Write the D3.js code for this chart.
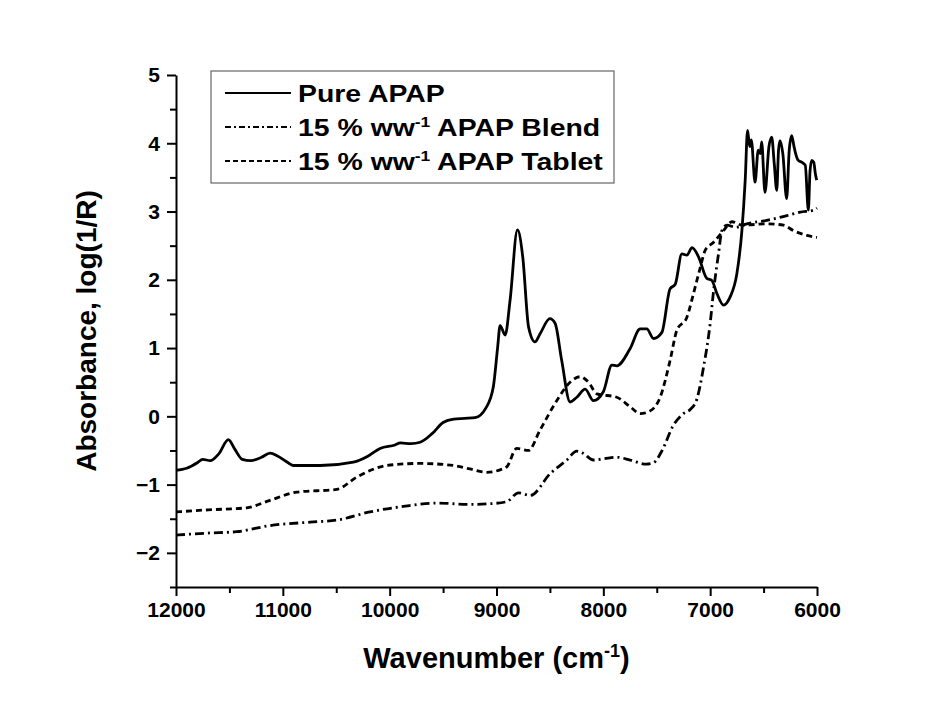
<!DOCTYPE html>
<html>
<head>
<meta charset="utf-8">
<script src="https://cdn.jsdelivr.net/npm/d3@7"></script>
<style>
  body { margin: 0; background: #ffffff; }
</style>
</head>
<body>
<div id="chart"></div>
<script>
// Wavenumber (cm-1) and absorbance
var pureWave = [12000, 11900, 11800, 11750, 11680, 11600, 11510, 11450, 11380, 11300, 11200, 11120, 11050, 10950, 10900, 10650, 10340, 10200, 10090, 9950, 9900, 9800, 9715, 9600, 9500, 9400, 9300, 9200, 9100, 9030, 8990, 8966, 8919, 8873, 8804, 8754, 8700, 8640, 8592, 8500, 8451, 8390, 8311, 8248, 8170, 8093, 8000, 7920, 7874, 7750, 7655, 7593, 7530, 7452, 7375, 7328, 7265, 7218, 7170, 7110, 7031, 6984, 6937, 6875, 6813, 6750, 6703, 6672, 6650, 6630, 6615, 6580, 6550, 6530, 6518, 6487, 6450, 6424, 6400, 6377, 6360, 6346, 6320, 6284, 6260, 6237, 6215, 6200, 6175, 6140, 6110, 6081, 6065, 6049, 6030, 6015, 6003];
var pureAbs = [-0.79, -0.76, -0.68, -0.63, -0.65, -0.55, -0.34, -0.48, -0.63, -0.65, -0.60, -0.54, -0.58, -0.68, -0.72, -0.72, -0.67, -0.58, -0.47, -0.42, -0.39, -0.40, -0.38, -0.25, -0.09, -0.04, -0.03, -0.02, 0.12, 0.43, 1.00, 1.33, 1.19, 1.70, 2.73, 2.33, 1.31, 1.09, 1.21, 1.43, 1.36, 0.82, 0.21, 0.28, 0.40, 0.23, 0.36, 0.75, 0.74, 0.99, 1.28, 1.28, 1.14, 1.23, 1.87, 1.93, 2.38, 2.36, 2.47, 2.34, 2.02, 1.99, 1.80, 1.63, 1.75, 2.09, 2.72, 3.46, 4.19, 3.95, 4.05, 3.43, 3.90, 3.85, 4.02, 3.28, 3.95, 4.09, 3.70, 3.31, 3.90, 4.04, 3.85, 3.19, 3.90, 4.11, 3.95, 3.85, 3.75, 3.72, 3.68, 3.02, 3.60, 3.75, 3.72, 3.55, 3.46];

var blendWave = [12000, 11700, 11432, 11120, 10745, 10495, 10184, 9872, 9559, 9250, 9060, 8904, 8795, 8685, 8498, 8342, 8248, 8190, 8093, 7990, 7874, 7749, 7600, 7530, 7450, 7344, 7250, 7187, 7125, 7062, 7000, 6968, 6922, 6890, 6843, 6760, 6657, 6470, 6282, 6157, 6032, 6000];
var blendAbs = [-1.74, -1.71, -1.69, -1.60, -1.55, -1.52, -1.40, -1.32, -1.27, -1.29, -1.28, -1.25, -1.12, -1.16, -0.84, -0.64, -0.51, -0.54, -0.64, -0.62, -0.60, -0.64, -0.70, -0.68, -0.50, -0.13, 0.04, 0.10, 0.25, 0.72, 1.36, 1.84, 2.38, 2.72, 2.80, 2.77, 2.82, 2.87, 2.94, 2.99, 3.02, 3.05];

var tabletWave = [12000, 11700, 11338, 11120, 10870, 10495, 10308, 10027, 9715, 9403, 9250, 9091, 8960, 8904, 8810, 8701, 8592, 8436, 8311, 8217, 8139, 8061, 7874, 7749, 7655, 7562, 7468, 7375, 7312, 7218, 7156, 7094, 7047, 6968, 6875, 6797, 6700, 6470, 6313, 6220, 6095, 6000];
var tabletAbs = [-1.40, -1.37, -1.34, -1.23, -1.11, -1.07, -0.89, -0.72, -0.69, -0.72, -0.77, -0.82, -0.78, -0.74, -0.47, -0.50, -0.20, 0.23, 0.50, 0.58, 0.50, 0.33, 0.28, 0.14, 0.04, 0.08, 0.28, 0.82, 1.26, 1.45, 1.80, 2.17, 2.43, 2.55, 2.72, 2.85, 2.80, 2.82, 2.80, 2.72, 2.65, 2.62];

var xTicks = [12000, 11000, 10000, 9000, 8000, 7000, 6000];
var yTicks = [-2, -1, 0, 1, 2, 3, 4, 5];

var seriesNames = ["Pure APAP", "15 % ww", "15 % ww"];
var seriesTails = ["", " APAP Blend", " APAP Tablet"];

var series = [
  { name: seriesNames[0], tail: seriesTails[0], dash: null, legendDash: null, sup: false,
    values: pureWave.map((w, i) => ({ w: w, a: pureAbs[i] })) },
  { name: seriesNames[1], tail: seriesTails[1], dash: "9,4,2,4", legendDash: "6,3,2,3", sup: true,
    values: blendWave.map((w, i) => ({ w: w, a: blendAbs[i] })) },
  { name: seriesNames[2], tail: seriesTails[2], dash: "6,4", legendDash: "5,3", sup: true,
    values: tabletWave.map((w, i) => ({ w: w, a: tabletAbs[i] })) }
];

var width = 934, height = 704;
var margin = { top: 75, right: 117, bottom: 117, left: 176 };
var fontFam = "Liberation Sans, Arial, sans-serif";

var svg = d3.select("#chart").append("svg")
  .attr("width", width)
  .attr("height", height)
  .attr("font-family", fontFam)
  .attr("font-weight", "700");

svg.append("rect").attr("width", width).attr("height", height).attr("fill", "#ffffff");

var x = d3.scaleLinear()
  .domain([12000, 6000])
  .range([margin.left, width - margin.right]);

var y = d3.scaleLinear()
  .domain([-2.5, 5])
  .range([height - margin.bottom, margin.top]);

var xMinor = d3.range(6500, 12000, 1000);
var yMinor = d3.range(-2.5, 5, 1);

// minor ticks
svg.append("g")
  .attr("transform", `translate(0,${y(-2.5)})`)
  .call(d3.axisBottom(x).tickValues(xMinor).tickSize(6).tickSizeOuter(0).tickFormat(""))
  .call(g => g.select(".domain").remove())
  .call(g => g.selectAll("line").attr("stroke-width", 2));

svg.append("g")
  .attr("transform", `translate(${x(12000)},0)`)
  .call(d3.axisLeft(y).tickValues(yMinor).tickSize(6).tickSizeOuter(0).tickFormat(""))
  .call(g => g.select(".domain").remove())
  .call(g => g.selectAll("line").attr("stroke-width", 2));

// major axes
svg.append("g")
  .attr("transform", `translate(0,${y(-2.5)})`)
  .call(d3.axisBottom(x).tickValues(xTicks).tickSize(9).tickSizeOuter(0).tickPadding(6).tickFormat(d3.format("d")))
  .call(g => g.select(".domain").attr("stroke-width", 2))
  .call(g => g.selectAll("line").attr("stroke-width", 2))
  .call(g => g.selectAll(".tick text")
    .attr("font-family", fontFam)
    .attr("font-weight", "700")
    .attr("font-size", "21px")
    .attr("fill", "#000"));

svg.append("g")
  .attr("transform", `translate(${x(12000)},0)`)
  .call(d3.axisLeft(y).tickValues(yTicks).tickSize(9).tickSizeOuter(0).tickPadding(7).tickFormat(d3.format("d")))
  .call(g => g.select(".domain").attr("stroke-width", 2))
  .call(g => g.selectAll("line").attr("stroke-width", 2))
  .call(g => g.selectAll(".tick text")
    .attr("font-family", fontFam)
    .attr("font-weight", "700")
    .attr("font-size", "21px")
    .attr("fill", "#000"));

// curves
var line = d3.line()
  .x(d => x(d.w))
  .y(d => y(d.a))
  .curve(d3.curveMonotoneX);

svg.append("g")
  .selectAll("path")
  .data(series)
  .join("path")
  .attr("fill", "none")
  .attr("stroke", "#000")
  .attr("stroke-width", 2.8)
  .attr("stroke-linejoin", "round")
  .attr("stroke-dasharray", d => d.dash)
  .attr("d", d => line(d.values));

// legend
var legend = svg.append("g").attr("transform", "translate(211,71)");

legend.append("rect")
  .attr("width", 403)
  .attr("height", 112)
  .attr("fill", "#fff")
  .attr("stroke", "#666")
  .attr("stroke-width", 1.2);

var rows = legend.selectAll("g.row")
  .data(series)
  .join("g")
  .attr("class", "row")
  .attr("transform", (d, i) => `translate(0,${22 + i * 34})`);

rows.append("line")
  .attr("x1", 14)
  .attr("x2", 80)
  .attr("stroke", "#000")
  .attr("stroke-width", 2.2)
  .attr("stroke-dasharray", d => d.legendDash);

var labels = rows.append("text")
  .attr("transform", "translate(87,0) scale(1.16,1)")
  .attr("dy", "0.36em")
  .attr("font-size", "24.5px")
  .attr("fill", "#000");

labels.append("tspan").text(d => d.name);
labels.filter(d => d.sup).append("tspan")
  .attr("font-size", "15px")
  .attr("dy", "-9")
  .text("-1");
labels.filter(d => d.sup).append("tspan")
  .attr("dy", "9")
  .text(d => d.tail);

// axis titles
var xTitle = svg.append("text")
  .attr("x", (x(12000) + x(6000)) / 2)
  .attr("y", 668)
  .attr("text-anchor", "middle")
  .attr("font-size", "29px")
  .attr("fill", "#000");
xTitle.append("tspan").text("Wavenumber (cm");
xTitle.append("tspan").attr("font-size", "18px").attr("dy", "-11").text("-1");
xTitle.append("tspan").attr("dy", "11").text(")");

svg.append("text")
  .attr("transform", `translate(96,${(y(-2.5) + y(5)) / 2}) rotate(-90)`)
  .attr("text-anchor", "middle")
  .attr("font-size", "28px")
  .attr("fill", "#000")
  .text("Absorbance, log(1/R)");
</script>
</body>
</html>
